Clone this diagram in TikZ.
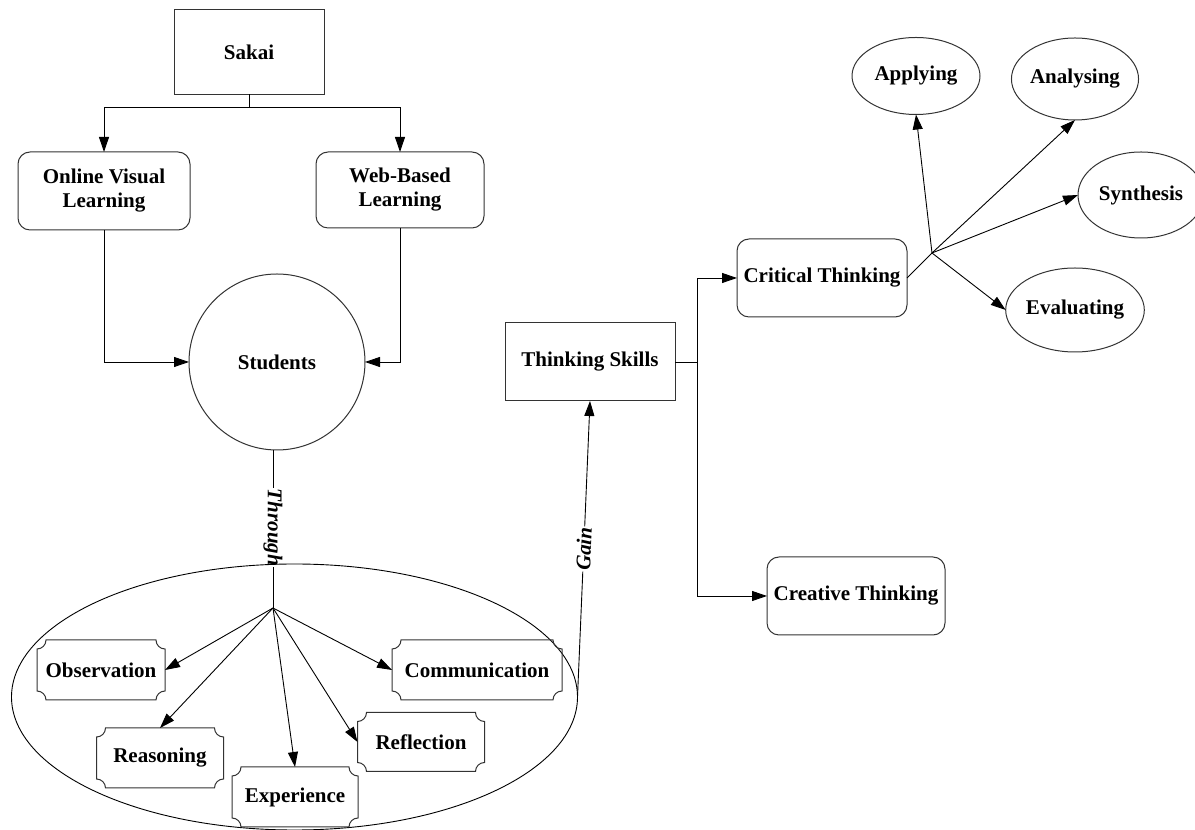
\documentclass[tikz,border=0pt]{standalone}
\usepackage{fontspec}
\setmainfont{Liberation Serif}
\usetikzlibrary{arrows.meta,shapes.geometric,calc}
\newcommand{\plaquebox}[1]{%
  \draw[boxline] let \p1=(#1.south west), \p2=(#1.north east) in
   (\x1+9pt,\y1) -- (\x2-9pt,\y1) arc[start angle=180,end angle=90,radius=9pt]
   -- (\x2,\y2-9pt) arc[start angle=270,end angle=180,radius=9pt]
   -- (\x1+9pt,\y2) arc[start angle=0,end angle=-90,radius=9pt]
   -- (\x1,\y1+9pt) arc[start angle=90,end angle=0,radius=9pt] -- cycle;}
\begin{document}
\begin{tikzpicture}[x=1pt,y=1pt,
  every node/.style={font=\bfseries\fontsize{21}{24}\selectfont, inner sep=0pt, outer sep=0pt},
  boxline/.style={draw=black!80, line width=1pt},
  sqbox/.style={rectangle, boxline},
  rbox/.style={rectangle, rounded corners=12pt, boxline, align=center},
  plq/.style={rectangle},
  ell/.style={ellipse, boxline},
  conn/.style={draw=black, line width=0.9pt},
  arr/.style={conn, -{Triangle[length=15pt,width=10pt]}},
  lbl/.style={font=\bfseries\itshape\fontsize{21}{24}\selectfont, fill=white, inner sep=1pt}]
\useasboundingbox (0,0) rectangle (1195,830);
% top part
\node[sqbox, minimum width=150pt, minimum height=85pt] (sakai) at (249,778) {Sakai};
\node[rbox, minimum width=172pt, minimum height=78pt] (ovl) at (104,639) {Online Visual\\Learning};
\node[rbox, minimum width=168pt, minimum height=76pt] (wbl) at (400,640) {Web-Based\\Learning};
\node[circle, boxline, minimum size=176pt] (stu) at (277,468) {Students};
\coordinate (sj) at (249,723);
\draw[conn] (sakai.south) -- (sj);
\draw[arr] (sj) -| (ovl.north);
\draw[arr] (sj) -| (wbl.north);
\draw[arr] (ovl.south) |- (stu.west);
\draw[arr] (wbl.south) |- (stu.east);
% hub and ellipse
\coordinate (hub1) at (273,222);
\draw[conn] (hub1 |- stu.south) -- node[lbl, rotate=-90, pos=0.49] (through) {Through} (hub1);
\node[ellipse, draw=black, line width=0.9pt, minimum width=566pt, minimum height=266pt] (bigell) at (294.5,133) {};
\node[plq, minimum width=128pt, minimum height=60pt] (obs) at (101,160) {Observation};
\node[plq, minimum width=127pt, minimum height=60pt] (rea) at (160,72) {Reasoning};
\node[plq, minimum width=126pt, minimum height=60pt] (exp) at (295,33) {Experience};
\node[plq, minimum width=127pt, minimum height=59pt] (ref) at (421,88) {Reflection};
\node[plq, minimum width=170pt, minimum height=60pt] (com) at (477,160) {Communication};
\plaquebox{obs}\plaquebox{rea}\plaquebox{exp}\plaquebox{ref}\plaquebox{com}
\draw[arr] (hub1) -- (obs.east);
\draw[arr] (hub1) -- (rea.north);
\draw[arr] (hub1) -- (exp.north);
\draw[arr] (hub1) -- (ref.west);
\draw[arr] (hub1) -- (com.west);
% thinking skills
\node[sqbox, minimum width=170pt, minimum height=78pt] (ts) at (590,468) {Thinking Skills};
\draw[arr] (bigell.east) -- node[lbl, sloped, pos=0.5] (gain) {Gain} (ts.south);
\node[rbox, minimum width=170pt, minimum height=78pt] (ct) at (822,552) {Critical Thinking};
\node[rbox, minimum width=178pt, minimum height=78pt] (cr) at (856,234) {Creative Thinking};
\coordinate (bus) at (697,468);
\draw[conn] (ts.east) -- (bus);
\draw[arr] (bus) |- (ct.west);
\draw[arr] (bus) |- (cr.west);
% critical thinking branches
\node[ell, minimum width=128pt, minimum height=77pt] (app) at (916,754) {Applying};
\node[ell, minimum width=126pt, minimum height=82pt] (ana) at (1075,751) {Analysing};
\node[ell, minimum width=126pt, minimum height=86pt] (syn) at (1141,635) {Synthesis};
\node[ell, minimum width=126pt, minimum height=84pt] (eva) at (1075,520) {Evaluating};
\coordinate (hub2) at (932,577);
\draw[conn] (ct.east) -- (hub2);
\draw[arr] (hub2) -- (app.south);
\draw[arr] (hub2) -- (ana.south);
\draw[arr] (hub2) -- (syn.west);
\draw[arr] (hub2) -- (eva.west);
\end{tikzpicture}
\end{document}
